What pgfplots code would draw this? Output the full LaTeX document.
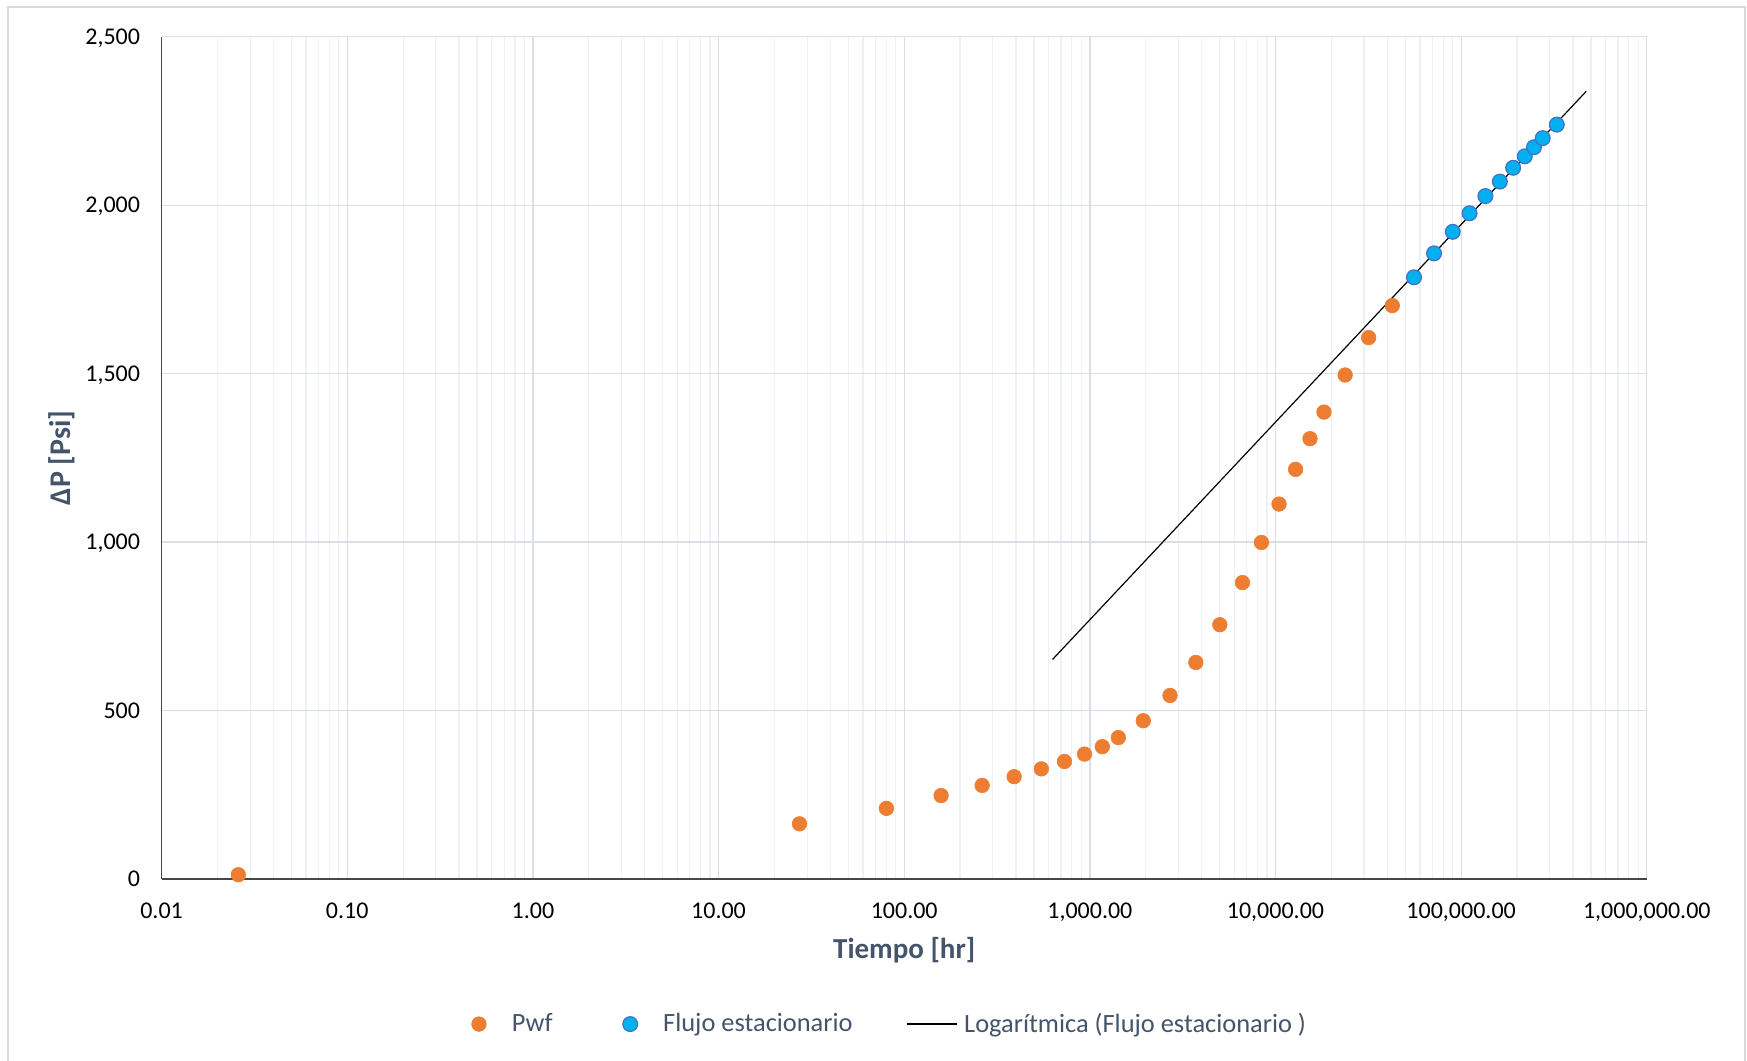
\documentclass[border=0pt]{standalone}
\usepackage{fontspec}
\setmainfont{Carlito}
\usepackage{pgfplots}
\pgfplotsset{compat=1.18}
\definecolor{orangeP}{RGB}{237,125,49}
\definecolor{blueF}{RGB}{0,176,240}
\definecolor{blueE}{RGB}{68,114,196}
\definecolor{titlec}{RGB}{68,84,106}
\definecolor{gridmaj}{RGB}{218,222,230}
\definecolor{gridmin}{RGB}{237,240,244}
\definecolor{axisc}{RGB}{70,70,70}
\definecolor{framec}{RGB}{217,217,217}
\pgfplotsset{
  imgorange/.style={legend image code/.code={\path[draw=none,fill=none] (-3.7pt,0pt) -- (16.5pt,0pt); \draw[##1] plot coordinates {(0pt,0pt)};}},
  imgblue/.style={legend image code/.code={\path[draw=none,fill=none] (-38.8pt,0pt) -- (16.5pt,0pt); \draw[##1] plot coordinates {(0pt,0pt)};}},
  imgline/.style={legend image code/.code={\path[draw=none,fill=none] (-27pt,0pt) -- (28.8pt,0pt); \draw[##1] (0pt,0pt) -- (25pt,0pt);}},
}
\begin{document}
\begin{tikzpicture}
\path[use as bounding box] (0,0) rectangle (873.5pt,530.5pt);
\draw[framec, line width=0.7pt] (4pt,-2pt) -- (4pt,527pt) -- (872.5pt,527pt) -- (872.5pt,-2pt);
\begin{axis}[
  at={(80.8pt,90.95pt)}, anchor=south west,
  width=742.6pt, height=421.2pt, scale only axis,
  xmode=log, xmin=0.01, xmax=1000000, ymin=0, ymax=2500,
  xtick={0.01,0.1,1,10,100,1000,10000,100000,1000000},
  xticklabels={0.01,0.10,1.00,10.00,100.00,{1,000.00},{10,000.00},{100,000.00},{1,000,000.00}},
  minor xtick={0.02,0.03,0.04,0.05,0.06,0.07,0.08,0.09,
    0.2,0.3,0.4,0.5,0.6,0.7,0.8,0.9,
    2,3,4,5,6,7,8,9,
    20,30,40,50,60,70,80,90,
    200,300,400,500,600,700,800,900,
    2000,3000,4000,5000,6000,7000,8000,9000,
    20000,30000,40000,50000,60000,70000,80000,90000,
    200000,300000,400000,500000,600000,700000,800000,900000},
  ytick={0,500,1000,1500,2000,2500},
  yticklabels={0,500,{1,000},{1,500},{2,000},{2,500}},
  grid=both,
  major grid style={gridmaj, line width=0.65pt},
  minor grid style={gridmin, line width=0.6pt},
  major tick length=0pt, minor tick length=0pt,
  axis x line*=bottom, axis y line*=left,
  axis line style={axisc, line width=0.75pt, -},
  xticklabel style={anchor=base, inner sep=0pt, yshift=-19.5pt, font=\fontsize{12}{14}\selectfont, text=black},
  yticklabel style={anchor=base east, inner sep=0pt, xshift=-10.6pt, yshift=-3.8pt, font=\fontsize{12}{14}\selectfont, text=black},
  xlabel={Tiempo [hr]},
  ylabel={ΔP [Psi]},
  xlabel style={at={(axis description cs:0.5,-0.0847)}, anchor=center, font=\fontsize{14.5}{17}\selectfont\bfseries, text=titlec},
  ylabel style={at={(axis description cs:-0.0673,0.5)}, anchor=center, font=\fontsize{15}{17}\selectfont\bfseries, text=titlec},
  legend columns=3,
  legend cell align=left,
  legend style={at={(axis description cs:0.2087,-0.1721)}, anchor=west, draw=none, fill=none,
    inner sep=0pt, outer sep=0pt, column sep=0pt, row sep=0pt,
    font=\fontsize{13.2}{15}\selectfont, text=titlec, nodes={inner sep=0pt}},
]
\addplot[only marks, mark=*, mark size=3.65pt, mark options={fill=orangeP, draw=orangeP, line width=0.3pt}, imgorange]
  coordinates {
  (0.0259,13) (27.3,164) (80.2,210) (158,248) (263,278) (391,304) (548,327) (730,349)
  (936,371) (1167,393) (1424,420) (1940,470) (2703,545) (3723,643) (5012,755) (6637,880)
  (8399,999) (10446,1113) (12830,1216) (15340,1307) (18250,1386) (23720,1496) (31750,1607) (42560,1702)
  };
\addlegendentry{Pwf}
\addplot[only marks, mark=*, mark size=3.7pt, mark options={fill=blueF, draw=blueE, line width=0.6pt}, imgblue]
  coordinates {
  (55720,1786) (71450,1857) (90120,1921) (110960,1976) (135100,2027) (161600,2070)
  (190600,2111) (220100,2145) (246800,2172) (275000,2199) (327400,2239)
  };
\addlegendentry{Flujo estacionario}
\addplot[black, line width=0.6pt, imgline]
  coordinates {(630,652) (472000,2338)};
\addlegendentry{Logarítmica (Flujo estacionario )}
\end{axis}
\end{tikzpicture}
\end{document}
